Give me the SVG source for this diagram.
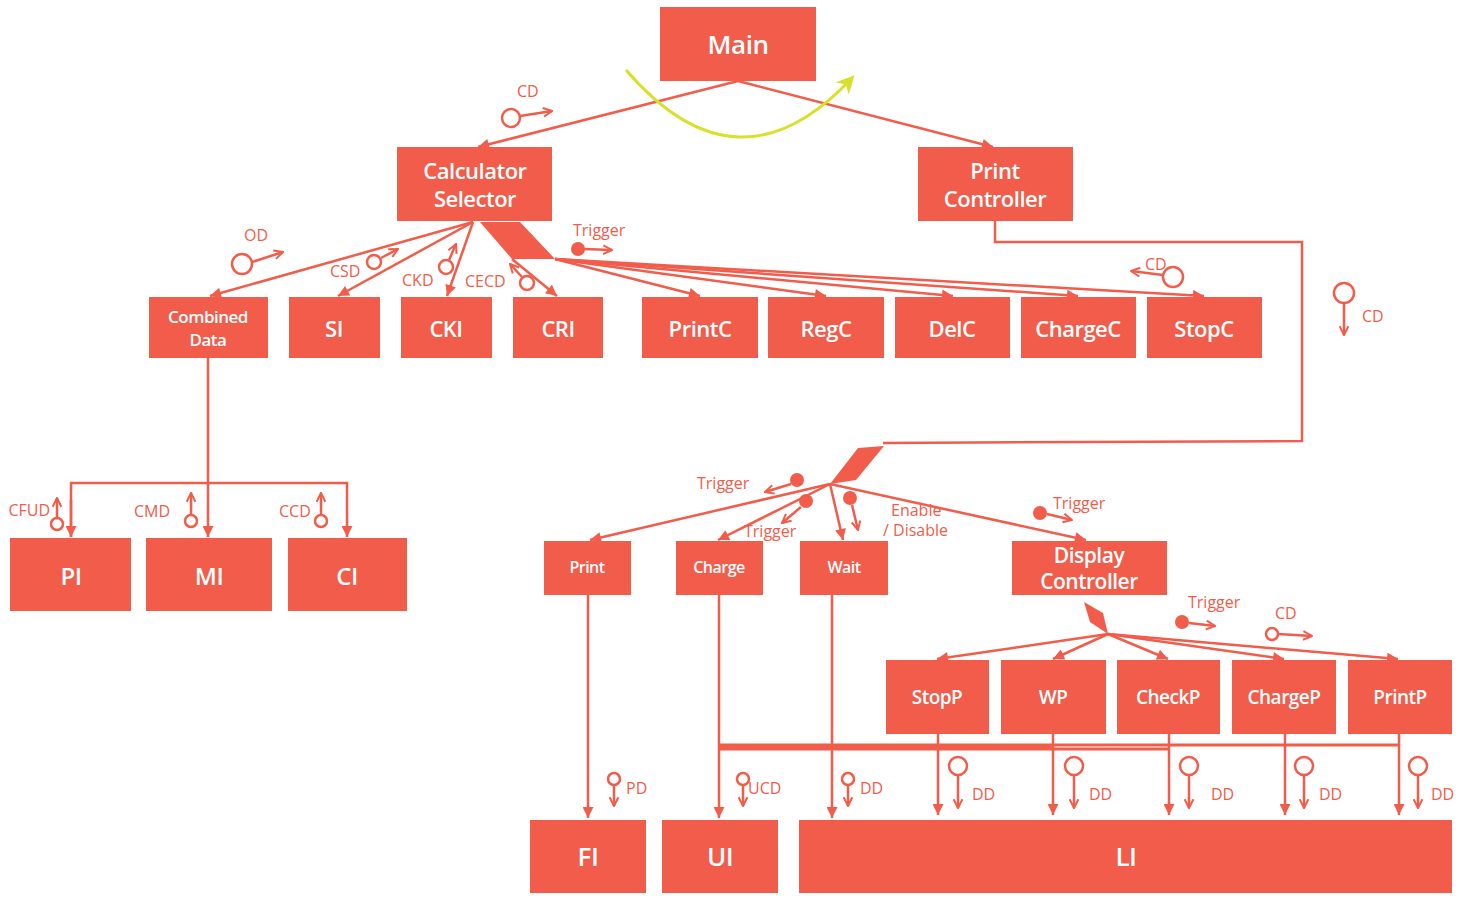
<svg xmlns="http://www.w3.org/2000/svg" width="1460" height="902" viewBox="0 0 1460 902">
<style>
.box{fill:#F25C4A}
.t{fill:#fff;font-family:"Open Sans","Liberation Sans",sans-serif;font-weight:600;text-anchor:middle;dominant-baseline:central;letter-spacing:-0.5px}
.l{fill:#F25C4A;font-family:"Open Sans","Liberation Sans",sans-serif;font-size:16px}
.c{fill:none;stroke:#F25C4A;stroke-width:2.5}
.s{fill:none;stroke:#F25C4A;stroke-width:2.5}
.sf{fill:#F25C4A;stroke:#F25C4A;stroke-width:2}
.so{fill:#fff;stroke:#F25C4A;stroke-width:2.5}
</style>
<defs>
<marker id="ah" viewBox="0 0 10 10" refX="10" refY="5" markerWidth="12" markerHeight="11" markerUnits="userSpaceOnUse" orient="auto"><path d="M0,0 L10,5 L0,10 z" fill="#F25C4A"/></marker>
<marker id="oa" viewBox="0 0 10 10" refX="9" refY="5" markerWidth="11" markerHeight="11" markerUnits="userSpaceOnUse" orient="auto"><path d="M1,1 L9,5 L1,9" fill="none" stroke="#F25C4A" stroke-width="1.8"/></marker>
<marker id="ya" viewBox="0 0 10 10" refX="8" refY="5" markerWidth="18" markerHeight="18" markerUnits="userSpaceOnUse" orient="auto"><path d="M0,0 L10,5 L0,10 L3,5 z" fill="#D9E02C"/></marker>
</defs>

<g id="connectors">
<line class="c" x1="738" y1="81" x2="478" y2="147" marker-end="url(#ah)"/>
<line class="c" x1="738" y1="81" x2="993" y2="147" marker-end="url(#ah)"/>
<path d="M626,70 Q738,200 852,78" fill="none" stroke="#D9E02C" stroke-width="3" marker-end="url(#ya)"/>
<line class="c" x1="473" y1="222" x2="210" y2="296" marker-end="url(#ah)"/>
<line class="c" x1="473" y1="222" x2="338" y2="296" marker-end="url(#ah)"/>
<line class="c" x1="473" y1="222" x2="447" y2="296" marker-end="url(#ah)"/>
<polygon points="480,222 520,222 555,259 512,259" fill="#F25C4A"/>
<line class="c" x1="512" y1="259" x2="557" y2="296" marker-end="url(#ah)"/>
<line class="c" x1="555" y1="259" x2="700" y2="296" marker-end="url(#ah)"/>
<line class="c" x1="555" y1="259" x2="826" y2="296" marker-end="url(#ah)"/>
<line class="c" x1="555" y1="259" x2="953" y2="296" marker-end="url(#ah)"/>
<line class="c" x1="555" y1="259" x2="1078" y2="296" marker-end="url(#ah)"/>
<line class="c" x1="555" y1="259" x2="1204" y2="296" marker-end="url(#ah)"/>
<polyline class="c" points="995,221 995,242 1302,242 1302,441 883,443"/>
<polygon points="858,448 884,446 856,480 830,484" fill="#F25C4A"/>
<line class="c" x1="830" y1="484" x2="590" y2="540" marker-end="url(#ah)"/>
<line class="c" x1="830" y1="484" x2="718" y2="540" marker-end="url(#ah)"/>
<line class="c" x1="830" y1="484" x2="843" y2="540" marker-end="url(#ah)"/>
<line class="c" x1="830" y1="484" x2="1086" y2="540" marker-end="url(#ah)"/>
<polygon points="1084,602 1103,613 1108,634 1090,622" fill="#F25C4A"/>
<line class="c" x1="1108" y1="634" x2="937" y2="659" marker-end="url(#ah)"/>
<line class="c" x1="1108" y1="634" x2="1053" y2="659" marker-end="url(#ah)"/>
<line class="c" x1="1108" y1="634" x2="1168" y2="659" marker-end="url(#ah)"/>
<line class="c" x1="1108" y1="634" x2="1284" y2="659" marker-end="url(#ah)"/>
<line class="c" x1="1108" y1="634" x2="1398" y2="659" marker-end="url(#ah)"/>
<polyline class="c" points="208,358 208,483"/>
<line class="c" x1="208" y1="483" x2="208" y2="537" marker-end="url(#ah)"/>
<polyline class="c" points="71,537 71,483 347,483 347,537" marker-end="url(#ah)"/>
<line class="c" x1="71" y1="500" x2="71" y2="537" marker-end="url(#ah)"/>
<line class="c" x1="588" y1="595" x2="588" y2="818" marker-end="url(#ah)"/>
<line class="c" x1="719" y1="595" x2="719" y2="818" marker-end="url(#ah)"/>
<line class="c" x1="832" y1="595" x2="832" y2="818" marker-end="url(#ah)"/>
<line x1="719" y1="745" x2="1400" y2="745" stroke="#F25C4A" stroke-width="3"/>
<line x1="719" y1="749" x2="1170" y2="749" stroke="#F25C4A" stroke-width="3"/>
<line x1="719" y1="747" x2="1053" y2="747" stroke="#F25C4A" stroke-width="3"/>
<line class="c" x1="938" y1="734" x2="938" y2="815" marker-end="url(#ah)"/>
<line class="c" x1="1053" y1="734" x2="1053" y2="815" marker-end="url(#ah)"/>
<line class="c" x1="1169" y1="734" x2="1169" y2="815" marker-end="url(#ah)"/>
<line class="c" x1="1285" y1="734" x2="1285" y2="815" marker-end="url(#ah)"/>
<line class="c" x1="1399" y1="734" x2="1399" y2="815" marker-end="url(#ah)"/>
</g>

<g id="symbols">
<circle class="so" cx="511" cy="118" r="9"/><line class="s" x1="520" y1="116" x2="552" y2="111" marker-end="url(#oa)"/>
<circle class="so" cx="242" cy="264" r="10"/><line class="s" x1="252" y1="262" x2="283" y2="252" marker-end="url(#oa)"/>
<circle class="so" cx="374" cy="262" r="7"/><line class="s" x1="381" y1="258" x2="398" y2="249" marker-end="url(#oa)"/>
<circle class="so" cx="446" cy="267" r="7"/><line class="s" x1="449" y1="260" x2="456" y2="244" marker-end="url(#oa)"/>
<circle class="so" cx="527" cy="283" r="7"/><line class="s" x1="522" y1="277" x2="510" y2="264" marker-end="url(#oa)"/>
<circle class="sf" cx="578" cy="249" r="6"/><line class="s" x1="584" y1="249" x2="612" y2="250" marker-end="url(#oa)"/>
<circle class="so" cx="1173" cy="277" r="10"/><line class="s" x1="1163" y1="275" x2="1131" y2="271" marker-end="url(#oa)"/>
<circle class="so" cx="1344" cy="293" r="10"/><line class="s" x1="1344" y1="303" x2="1344" y2="335" marker-end="url(#oa)"/>
<circle class="sf" cx="797" cy="480" r="6"/><line class="s" x1="791" y1="484" x2="765" y2="492" marker-end="url(#oa)"/>
<circle class="sf" cx="806" cy="501" r="6"/><line class="s" x1="801" y1="507" x2="782" y2="523" marker-end="url(#oa)"/>
<circle class="sf" cx="850" cy="498" r="6"/><line class="s" x1="852" y1="505" x2="858" y2="530" marker-end="url(#oa)"/>
<circle class="sf" cx="1040" cy="513" r="6"/><line class="s" x1="1047" y1="514" x2="1072" y2="520" marker-end="url(#oa)"/>
<circle class="sf" cx="1182" cy="622" r="6"/><line class="s" x1="1189" y1="623" x2="1215" y2="626" marker-end="url(#oa)"/>
<circle class="so" cx="1272" cy="634" r="6"/><line class="s" x1="1278" y1="634" x2="1312" y2="636" marker-end="url(#oa)"/>
<circle class="so" cx="57" cy="524" r="6"/><line class="s" x1="57" y1="518" x2="57" y2="498" marker-end="url(#oa)"/>
<circle class="so" cx="191" cy="521" r="6"/><line class="s" x1="191" y1="515" x2="191" y2="493" marker-end="url(#oa)"/>
<circle class="so" cx="321" cy="521" r="6"/><line class="s" x1="321" y1="515" x2="321" y2="493" marker-end="url(#oa)"/>
<circle class="so" cx="614" cy="779" r="6"/><line class="s" x1="614" y1="785" x2="614" y2="806" marker-end="url(#oa)"/>
<circle class="so" cx="743" cy="779" r="6"/><line class="s" x1="743" y1="785" x2="743" y2="806" marker-end="url(#oa)"/>
<circle class="so" cx="848" cy="779" r="6"/><line class="s" x1="848" y1="785" x2="848" y2="806" marker-end="url(#oa)"/>
<circle class="so" cx="958" cy="766" r="9"/><line class="s" x1="958" y1="775" x2="958" y2="808" marker-end="url(#oa)"/>
<circle class="so" cx="1074" cy="766" r="9"/><line class="s" x1="1074" y1="775" x2="1074" y2="808" marker-end="url(#oa)"/>
<circle class="so" cx="1189" cy="766" r="9"/><line class="s" x1="1189" y1="775" x2="1189" y2="808" marker-end="url(#oa)"/>
<circle class="so" cx="1304" cy="766" r="9"/><line class="s" x1="1304" y1="775" x2="1304" y2="808" marker-end="url(#oa)"/>
<circle class="so" cx="1418" cy="766" r="9"/><line class="s" x1="1418" y1="775" x2="1418" y2="808" marker-end="url(#oa)"/>
</g>

<g id="labels">
<text class="l" x="517" y="97">CD</text>
<text class="l" x="244" y="241">OD</text>
<text class="l" x="330" y="277">CSD</text>
<text class="l" x="402" y="286">CKD</text>
<text class="l" x="465" y="287">CECD</text>
<text class="l" x="573" y="236">Trigger</text>
<text class="l" x="1145" y="270" font-size="13">CD</text>
<text class="l" x="1362" y="322">CD</text>
<text class="l" x="697" y="489">Trigger</text>
<text class="l" x="744" y="537">Trigger</text>
<text class="l" x="891" y="516" font-size="12">Enable</text>
<text class="l" x="883" y="536" font-size="12">/ Disable</text>
<text class="l" x="1053" y="509">Trigger</text>
<text class="l" x="1188" y="608">Trigger</text>
<text class="l" x="1275" y="619">CD</text>
<text class="l" x="50" y="516" text-anchor="end">CFUD</text>
<text class="l" x="134" y="517">CMD</text>
<text class="l" x="279" y="517">CCD</text>
<text class="l" x="626" y="794">PD</text>
<text class="l" x="748" y="794">UCD</text>
<text class="l" x="860" y="794">DD</text>
<text class="l" x="972" y="800">DD</text>
<text class="l" x="1089" y="800">DD</text>
<text class="l" x="1211" y="800">DD</text>
<text class="l" x="1319" y="800">DD</text>
<text class="l" x="1431" y="800">DD</text>
</g>

<g id="Main"><rect class="box" x="660" y="7" width="156" height="74"/><text class="t" x="738" y="44" font-size="26">Main</text></g>
<g id="CalculatorSelector"><rect class="box" x="397" y="147" width="155" height="74"/><text class="t" x="475" y="170" font-size="22">Calculator</text><text class="t" x="475" y="198" font-size="22">Selector</text></g>
<g id="PrintController"><rect class="box" x="918" y="147" width="155" height="74"/><text class="t" x="995" y="170" font-size="22">Print</text><text class="t" x="995" y="198" font-size="22">Controller</text></g>
<g id="CombinedData"><rect class="box" x="149" y="297" width="119" height="61"/><text class="t" x="208" y="316" font-size="17" font-weight="700">Combined</text><text class="t" x="208" y="339" font-size="17" font-weight="700">Data</text></g>
<g id="SI"><rect class="box" x="289" y="297" width="91" height="61"/><text class="t" x="334" y="328" font-size="22">SI</text></g>
<g id="CKI"><rect class="box" x="401" y="297" width="91" height="61"/><text class="t" x="446" y="328" font-size="22">CKI</text></g>
<g id="CRI"><rect class="box" x="513" y="297" width="90" height="61"/><text class="t" x="558" y="328" font-size="22">CRI</text></g>
<g id="PrintC"><rect class="box" x="642" y="297" width="116" height="61"/><text class="t" x="700" y="328" font-size="22">PrintC</text></g>
<g id="RegC"><rect class="box" x="768" y="297" width="116" height="61"/><text class="t" x="826" y="328" font-size="22">RegC</text></g>
<g id="DelC"><rect class="box" x="895" y="297" width="115" height="61"/><text class="t" x="952" y="328" font-size="22">DelC</text></g>
<g id="ChargeC"><rect class="box" x="1021" y="297" width="115" height="61"/><text class="t" x="1078" y="328" font-size="22">ChargeC</text></g>
<g id="StopC"><rect class="box" x="1147" y="297" width="115" height="61"/><text class="t" x="1204" y="328" font-size="22">StopC</text></g>
<g id="PI"><rect class="box" x="10" y="538" width="121" height="73"/><text class="t" x="71" y="575" font-size="24">PI</text></g>
<g id="MI"><rect class="box" x="146" y="538" width="126" height="73"/><text class="t" x="209" y="575" font-size="24">MI</text></g>
<g id="CI"><rect class="box" x="288" y="538" width="119" height="73"/><text class="t" x="347" y="575" font-size="24">CI</text></g>
<g id="Print"><rect class="box" x="544" y="541" width="87" height="54"/><text class="t" x="587" y="567" font-size="16" font-weight="700">Print</text></g>
<g id="Charge"><rect class="box" x="676" y="541" width="87" height="54"/><text class="t" x="719" y="567" font-size="16" font-weight="700">Charge</text></g>
<g id="Wait"><rect class="box" x="800" y="541" width="88" height="54"/><text class="t" x="844" y="567" font-size="16" font-weight="700">Wait</text></g>
<g id="DisplayController"><rect class="box" x="1012" y="541" width="155" height="54"/><text class="t" x="1089" y="555" font-size="21">Display</text><text class="t" x="1089" y="581" font-size="21">Controller</text></g>
<g id="StopP"><rect class="box" x="886" y="660" width="103" height="74"/><text class="t" x="937" y="697" font-size="19">StopP</text></g>
<g id="WP"><rect class="box" x="1001" y="660" width="105" height="74"/><text class="t" x="1053" y="697" font-size="19">WP</text></g>
<g id="CheckP"><rect class="box" x="1117" y="660" width="103" height="74"/><text class="t" x="1168" y="697" font-size="19">CheckP</text></g>
<g id="ChargeP"><rect class="box" x="1232" y="660" width="104" height="74"/><text class="t" x="1284" y="697" font-size="19">ChargeP</text></g>
<g id="PrintP"><rect class="box" x="1348" y="660" width="104" height="74"/><text class="t" x="1400" y="697" font-size="19">PrintP</text></g>
<g id="FI"><rect class="box" x="530" y="820" width="116" height="73"/><text class="t" x="588" y="856" font-size="26">FI</text></g>
<g id="UI"><rect class="box" x="662" y="820" width="116" height="73"/><text class="t" x="720" y="856" font-size="26">UI</text></g>
<g id="LI"><rect class="box" x="799" y="820" width="653" height="73"/><text class="t" x="1126" y="856" font-size="26">LI</text></g>
</svg>
